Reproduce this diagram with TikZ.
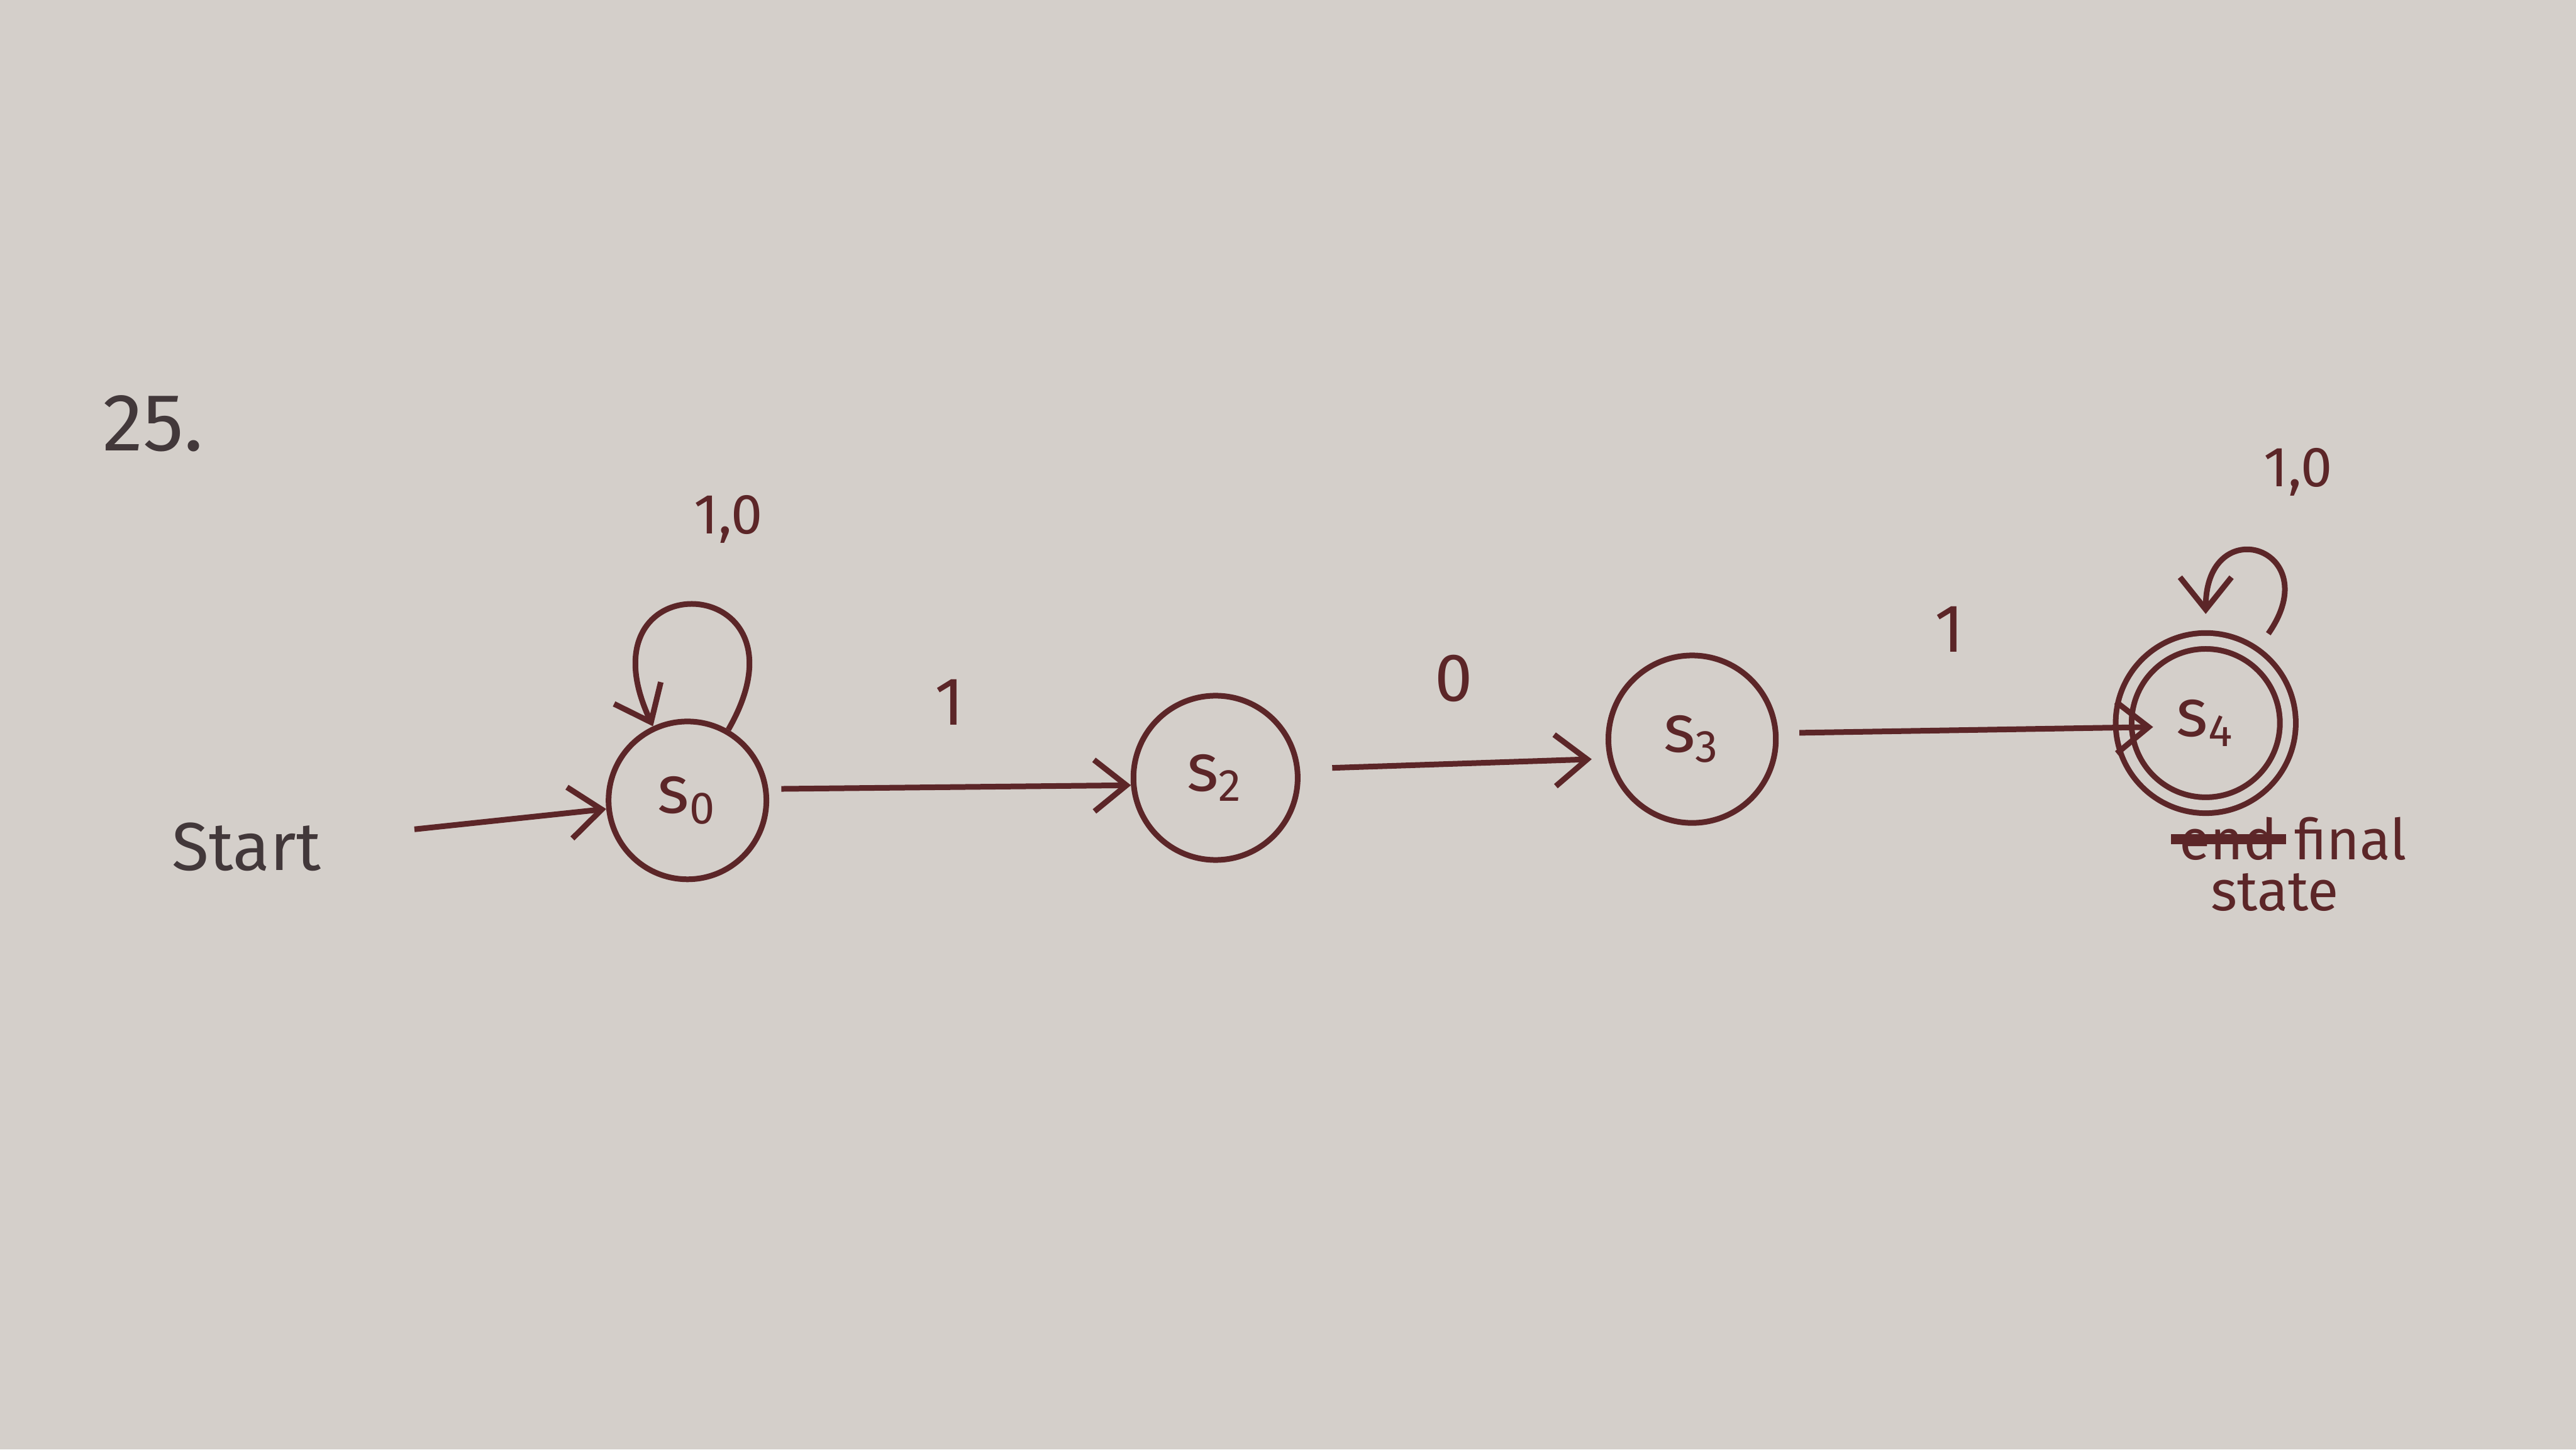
\documentclass[tikz,border=0pt]{standalone}
\usepackage{fontspec}
\setmainfont{Fira Sans}
\usetikzlibrary{arrows.meta,positioning}
\definecolor{ink}{RGB}{92,38,40}
\definecolor{pencil}{RGB}{66,56,58}
\definecolor{paper}{RGB}{212,207,202}

\begin{document}
\begin{tikzpicture}[>={Straight Barb[length=2mm,width=3.2mm]},line width=1pt,
    state/.style={draw=ink,circle,minimum size=0.98cm,inner sep=0pt,text=ink,font=\large},
    lbl/.style={text=ink,font=\large},
    looplbl/.style={text=ink,font=\normalsize}]
    \fill[paper] (0,0) rectangle (16,9);
    \useasboundingbox (0,0) rectangle (16,9);
    \node[text=pencil,font=\Large] (num) at (0.95,6.37) {25.};
    \node[text=pencil,font=\large] (start) at (1.53,3.74) {Start};
    \node[state] (s0) at (4.27,4.03) {s\textsubscript{0}};
    \node[state,minimum size=1.02cm] (s2) at (7.55,4.17) {s\textsubscript{2}};
    \node[state,minimum size=1.04cm] (s3) at (10.51,4.41) {s\textsubscript{3}};
    \node[state,minimum size=1.02cm,double=paper,double distance=1.8pt] (s4) at (13.70,4.51) {s\textsubscript{4}};
    \node[text=ink,inner sep=1pt] (fin) at (14.60,3.79) {final};
    \node[text=ink,left=0pt of fin,inner sep=1pt] (endw) {end};
    \node[text=ink,inner sep=1pt] (st) at (14.13,3.46) {state};
    \draw[ink,line width=1.8pt] (endw.west) -- (endw.east);
    \draw[->,ink,shorten <=4.5mm] (start) -- (s0);
    \draw[->,ink,shorten <=0.8mm] (s0.8) -- node[lbl,above=2.5mm] {1} (s2.185);
    \draw[->,ink,shorten <=2mm,shorten >=1mm] (s2.6) -- node[lbl,above=2.5mm] {0} (s3.193);
    \draw[->,ink,shorten <=1.3mm,shorten >=-2mm] (s3.4) -- node[lbl,above=3.5mm] {1} (s4.183);
    \draw[->,ink] (s0) edge[loop,out=60,in=115,min distance=11.5mm] node[looplbl,above=2.5mm,xshift=2mm] {1,0} (s0);
    \draw[->,ink,shorten <=1.5mm,shorten >=1.5mm] (s4) edge[loop,out=55,in=90,min distance=8mm] node[looplbl,above=2.5mm,xshift=2.5mm] {1,0} (s4);
  \end{tikzpicture}
\end{document}
